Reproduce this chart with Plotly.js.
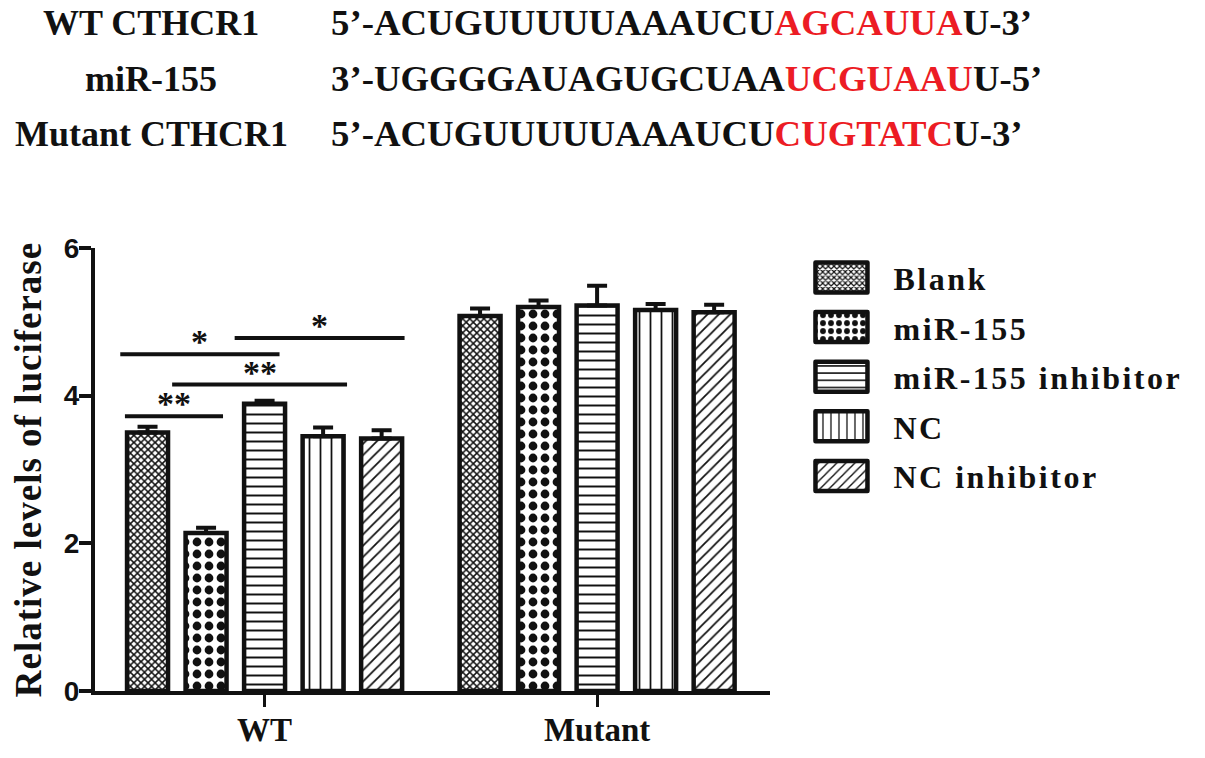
<!DOCTYPE html>
<html>
<head>
<meta charset="utf-8">
<script src="https://cdn.plot.ly/plotly-3.0.1.min.js"></script>
<style>
html,body{margin:0;padding:0;background:#fff;}
#chart{width:1205px;height:758px;}
#chart .legendtext{letter-spacing:2.5px;}
#chart .ytitle{letter-spacing:1px;}
</style>
</head>
<body>
<div id="chart"></div>
<script>
const groups = ['WT', 'Mutant'];
const seriesNames = ['Blank', 'miR-155', 'miR-155 inhibitor', 'NC', 'NC inhibitor'];
const blankVals = [3.50, 5.08];
const blankErr = [0.08, 0.10];
const mirVals = [2.14, 5.20];
const mirErr = [0.07, 0.09];
const inhibitorVals = [3.89, 5.22];
const inhibitorErr = [0.04, 0.27];
const ncVals = [3.45, 5.16];
const ncErr = [0.12, 0.08];
const ncInhibitorVals = [3.42, 5.13];
const ncInhibitorErr = [0.11, 0.10];
const yTicks = [0, 2, 4, 6];
const seqLabels = ['WT CTHCR1', 'miR-155', 'Mutant CTHCR1'];
const seqPrefix = ['5’-ACUGUUUUUAAAUCU', '3’-UGGGGAUAGUGCUAA', '5’-ACUGUUUUUAAAUCU'];
const seqSite = ['AGCAUUA', 'UCGUAAU', 'CUGTATC'];
const seqSuffix = ['U-3’', 'U-5’', 'U-3’'];
const sigMarks = ['**', '**', '*', '*'];

const values = [blankVals, mirVals, inhibitorVals, ncVals, ncInhibitorVals];
const errs = [blankErr, mirErr, inhibitorErr, ncErr, ncInhibitorErr];
const patterns = [
  {shape: 'x', size: 5, solidity: 0.5},
  {shape: '.', size: 12, solidity: 0.42},
  {shape: '-', size: 9, solidity: 0.22},
  {shape: '|', size: 11, solidity: 0.16},
  {shape: '/', size: 8, solidity: 0.22}
];

const serif = 'Liberation Serif, Times New Roman, serif';
const sans = 'Liberation Sans, Arial, sans-serif';

const traces = seriesNames.map((name, i) => ({
  type: 'bar',
  name: name,
  legendgroup: name,
  x: groups,
  y: values[i],
  marker: {
    color: '#ffffff',
    line: {color: '#111111', width: 4.5},
    pattern: Object.assign({fgcolor: '#111111', bgcolor: '#ffffff', fillmode: 'replace'}, patterns[i])
  },
  error_y: {
    type: 'data', symmetric: false, array: errs[i],
    arrayminus: errs[i].map(() => 0),
    color: '#111111', thickness: 4, width: 10
  },
  hoverinfo: 'x+y+name'
}));

// significance brackets (x in category units, y in data units)
const brackets = [
  {x0: -0.42, x1: -0.125, y: 3.72},
  {x0: -0.278, x1: 0.248, y: 4.15},
  {x0: -0.434, x1: 0.045, y: 4.56},
  {x0: -0.09, x1: 0.421, y: 4.78}
];
const shapes = brackets.map(b => ({
  type: 'line', xref: 'x', yref: 'y', x0: b.x0, x1: b.x1, y0: b.y, y1: b.y,
  line: {color: '#111111', width: 4}
}));
const annotations = brackets.map((b, i) => ({
  xref: 'x', yref: 'y', x: (b.x0 + b.x1) / 2, y: b.y, yanchor: 'bottom', yshift: -8,
  text: sigMarks[i], showarrow: false,
  font: {family: serif, size: 34, color: '#111111', weight: 'bold'}
}));

const rowY = [1.508, 1.382, 1.258];
seqLabels.forEach((lab, i) => {
  annotations.push({
    xref: 'paper', yref: 'paper', x: 0.083, y: rowY[i], xanchor: 'center', yanchor: 'middle',
    text: lab, showarrow: false,
    font: {family: serif, size: 36, color: '#111111', weight: 'bold'}
  });
  annotations.push({
    xref: 'paper', yref: 'paper', x: 0.346, y: rowY[i], xanchor: 'left', yanchor: 'middle',
    text: seqPrefix[i] + '<span style="color:#ec1c24">' + seqSite[i] + '</span>' + seqSuffix[i],
    showarrow: false,
    font: {family: serif, size: 36.8, color: '#111111', weight: 'bold'}
  });
});

const layout = {
  width: 1205, height: 758,
  margin: {l: 95, r: 435, t: 248, b: 67},
  paper_bgcolor: '#ffffff', plot_bgcolor: '#ffffff',
  barmode: 'group', bargap: 0.12, bargroupgap: 0.3,
  showlegend: true,
  legend: {
    x: 1.057, y: 0.995, xanchor: 'left', yanchor: 'top',
    font: {family: serif, size: 32, color: '#111111', weight: 'bold'},
    tracegroupgap: 5, itemwidth: 75, bgcolor: 'rgba(0,0,0,0)'
  },
  xaxis: {
    range: [-0.51, 1.52], showline: true, linecolor: '#111111', linewidth: 4,
    ticks: 'outside', ticklen: 12, tickwidth: 3, tickcolor: '#111111', ticklabelstandoff: -6,
    tickfont: {family: serif, size: 33, color: '#111111', weight: 'bold'},
    showgrid: false, zeroline: false, fixedrange: true
  },
  yaxis: {
    range: [0, 6], tickvals: yTicks, ticktext: yTicks.map(String),
    showline: true, linecolor: '#111111', linewidth: 4,
    ticks: 'outside', ticklen: 12, tickwidth: 4, tickcolor: '#111111', ticklabelstandoff: -6,
    tickfont: {family: sans, size: 28, color: '#111111', weight: 'bold'},
    showgrid: false, zeroline: false, fixedrange: true,
    title: {text: 'Relative levels of luciferase', standoff: 12,
      font: {family: serif, size: 37, color: '#111111', weight: 'bold'}}
  },
  shapes: shapes,
  annotations: annotations
};

function fixLegend() {
  const gd = document.getElementById('chart');
  gd.querySelectorAll('.legend [clip-path]').forEach(el => el.removeAttribute('clip-path'));
  gd.querySelectorAll('.legend .traces').forEach(g => {
    const text = g.querySelector('text.legendtext');
    const path = g.querySelector('.legendpoints path.legendbar') || g.querySelector('.legendpoints path');
    if (!text || !path) return;
    const tb = text.getBoundingClientRect();
    const m = path.getScreenCTM();
    if (!m) return;
    const right = (tb.left - 26 - m.e) / m.a;
    const left = right - 52;
    path.setAttribute('d', 'M' + left + ',-15H' + right + 'V15H' + left + 'Z');
    path.style.strokeWidth = '4.5px';
    path.style.strokeLinejoin = 'round';
  });
}

Plotly.newPlot('chart', traces, layout, {displayModeBar: false}).then(gd => {
  fixLegend();
  gd.on('plotly_afterplot', fixLegend);
});
</script>
</body>
</html>
